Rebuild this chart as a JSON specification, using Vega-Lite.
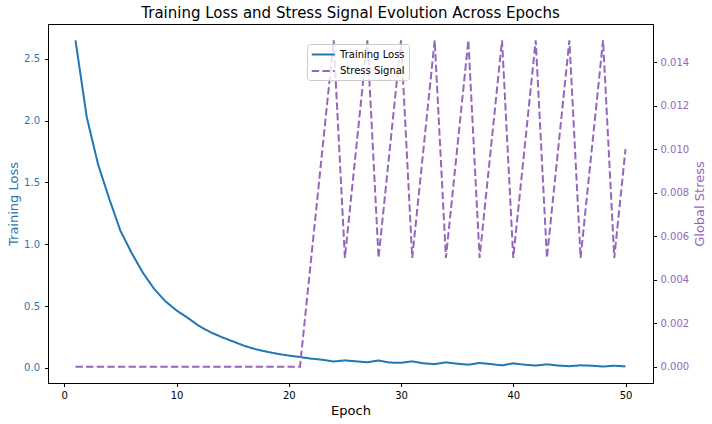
{
  "$schema": "https://vega.github.io/schema/vega-lite/v6.json",
  "autosize": {"type": "none"},
  "width": 605,
  "height": 359,
  "padding": {"left": 48, "top": 24, "right": 59, "bottom": 41},
  "background": "white",
  "title": {"text": "Training Loss and Stress Signal Evolution Across Epochs", "font": "DejaVu Sans", "fontSize": 15, "fontWeight": "normal", "color": "black", "offset": 3, "anchor": "middle"},
  "config": {
    "view": {"stroke": "black", "strokeWidth": 1},
    "axis": {"grid": false, "domainColor": "black", "tickColor": "black", "tickSize": 3.5, "labelFont": "DejaVu Sans", "labelFontSize": 10, "titleFont": "DejaVu Sans", "titleFontSize": 13, "titleFontWeight": "normal", "labelPadding": 3.5}
  },
  "data": {"values": [
    {"epoch": 1, "loss": 2.65, "stress": 0},
    {"epoch": 2, "loss": 2.03, "stress": 0},
    {"epoch": 3, "loss": 1.65, "stress": 0},
    {"epoch": 4, "loss": 1.37, "stress": 0},
    {"epoch": 5, "loss": 1.11, "stress": 0},
    {"epoch": 6, "loss": 0.93, "stress": 0},
    {"epoch": 7, "loss": 0.77, "stress": 0},
    {"epoch": 8, "loss": 0.64, "stress": 0},
    {"epoch": 9, "loss": 0.54, "stress": 0},
    {"epoch": 10, "loss": 0.465, "stress": 0},
    {"epoch": 11, "loss": 0.405, "stress": 0},
    {"epoch": 12, "loss": 0.34, "stress": 0},
    {"epoch": 13, "loss": 0.29, "stress": 0},
    {"epoch": 14, "loss": 0.25, "stress": 0},
    {"epoch": 15, "loss": 0.215, "stress": 0},
    {"epoch": 16, "loss": 0.18, "stress": 0},
    {"epoch": 17, "loss": 0.152, "stress": 0},
    {"epoch": 18, "loss": 0.132, "stress": 0},
    {"epoch": 19, "loss": 0.114, "stress": 0},
    {"epoch": 20, "loss": 0.1, "stress": 0},
    {"epoch": 21, "loss": 0.088, "stress": 0},
    {"epoch": 22, "loss": 0.075, "stress": 0.005},
    {"epoch": 23, "loss": 0.066, "stress": 0.01},
    {"epoch": 24, "loss": 0.052, "stress": 0.015},
    {"epoch": 25, "loss": 0.061, "stress": 0.005},
    {"epoch": 26, "loss": 0.053, "stress": 0.01},
    {"epoch": 27, "loss": 0.046, "stress": 0.015},
    {"epoch": 28, "loss": 0.06, "stress": 0.005},
    {"epoch": 29, "loss": 0.043, "stress": 0.01},
    {"epoch": 30, "loss": 0.042, "stress": 0.015},
    {"epoch": 31, "loss": 0.053, "stress": 0.005},
    {"epoch": 32, "loss": 0.037, "stress": 0.01},
    {"epoch": 33, "loss": 0.031, "stress": 0.015},
    {"epoch": 34, "loss": 0.045, "stress": 0.005},
    {"epoch": 35, "loss": 0.034, "stress": 0.01},
    {"epoch": 36, "loss": 0.026, "stress": 0.015},
    {"epoch": 37, "loss": 0.04, "stress": 0.005},
    {"epoch": 38, "loss": 0.031, "stress": 0.01},
    {"epoch": 39, "loss": 0.021, "stress": 0.015},
    {"epoch": 40, "loss": 0.037, "stress": 0.005},
    {"epoch": 41, "loss": 0.026, "stress": 0.01},
    {"epoch": 42, "loss": 0.019, "stress": 0.015},
    {"epoch": 43, "loss": 0.029, "stress": 0.005},
    {"epoch": 44, "loss": 0.019, "stress": 0.01},
    {"epoch": 45, "loss": 0.014, "stress": 0.015},
    {"epoch": 46, "loss": 0.021, "stress": 0.005},
    {"epoch": 47, "loss": 0.018, "stress": 0.01},
    {"epoch": 48, "loss": 0.011, "stress": 0.015},
    {"epoch": 49, "loss": 0.018, "stress": 0.005},
    {"epoch": 50, "loss": 0.012, "stress": 0.01}
  ]},
  "encoding": {
    "x": {"field": "epoch", "type": "quantitative", "scale": {"domain": [-1.45, 52.45], "nice": false, "zero": false},
      "axis": {"title": "Epoch", "values": [0, 10, 20, 30, 40, 50], "titleColor": "black", "labelColor": "black", "titlePadding": 4}}
  },
  "layer": [
    {
      "mark": {"type": "line", "strokeWidth": 2, "clip": true},
      "encoding": {
        "y": {"field": "loss", "type": "quantitative", "scale": {"domain": [-0.122, 2.782], "nice": false, "zero": false},
          "axis": {"title": "Training Loss", "orient": "left", "values": [0, 0.5, 1, 1.5, 2, 2.5], "format": ".1f", "labelColor": "#1f77b4", "titleColor": "#1f77b4", "labelPadding": 5, "titlePadding": 3}},
        "color": {"datum": "Training Loss", "type": "nominal", "scale": {"domain": ["Training Loss", "Stress Signal"], "range": ["#1f77b4", "#9467bd"]},
          "legend": {"title": null, "orient": "none", "legendX": 259, "legendY": 20, "symbolType": "M-1,0L3,0", "symbolSize": 132, "symbolStrokeWidth": 2, "labelOffset": 15.5, "labelFont": "DejaVu Sans", "labelFontSize": 10, "labelColor": "black", "strokeColor": "#cccccc", "fillColor": "rgba(255,255,255,0.8)", "cornerRadius": 3, "padding": 3.5, "rowPadding": 4.5}},
        "strokeDash": {"datum": "Training Loss", "type": "nominal", "scale": {"domain": ["Training Loss", "Stress Signal"], "range": [[1, 0], [7.4, 3.2]]}, "legend": null}
      }
    },
    {
      "mark": {"type": "line", "strokeWidth": 2, "clip": true},
      "encoding": {
        "y": {"field": "stress", "type": "quantitative", "scale": {"domain": [-0.00075, 0.01575], "nice": false, "zero": false},
          "axis": {"title": "Global Stress", "orient": "right", "values": [0, 0.002, 0.004, 0.006, 0.008, 0.01, 0.012, 0.014], "format": ".3f", "labelColor": "#9467bd", "titleColor": "#9467bd", "titleAngle": 270, "titlePadding": 18}},
        "color": {"datum": "Stress Signal", "type": "nominal"},
        "strokeDash": {"datum": "Stress Signal", "type": "nominal"}
      }
    }
  ],
  "resolve": {"scale": {"y": "independent"}}
}
